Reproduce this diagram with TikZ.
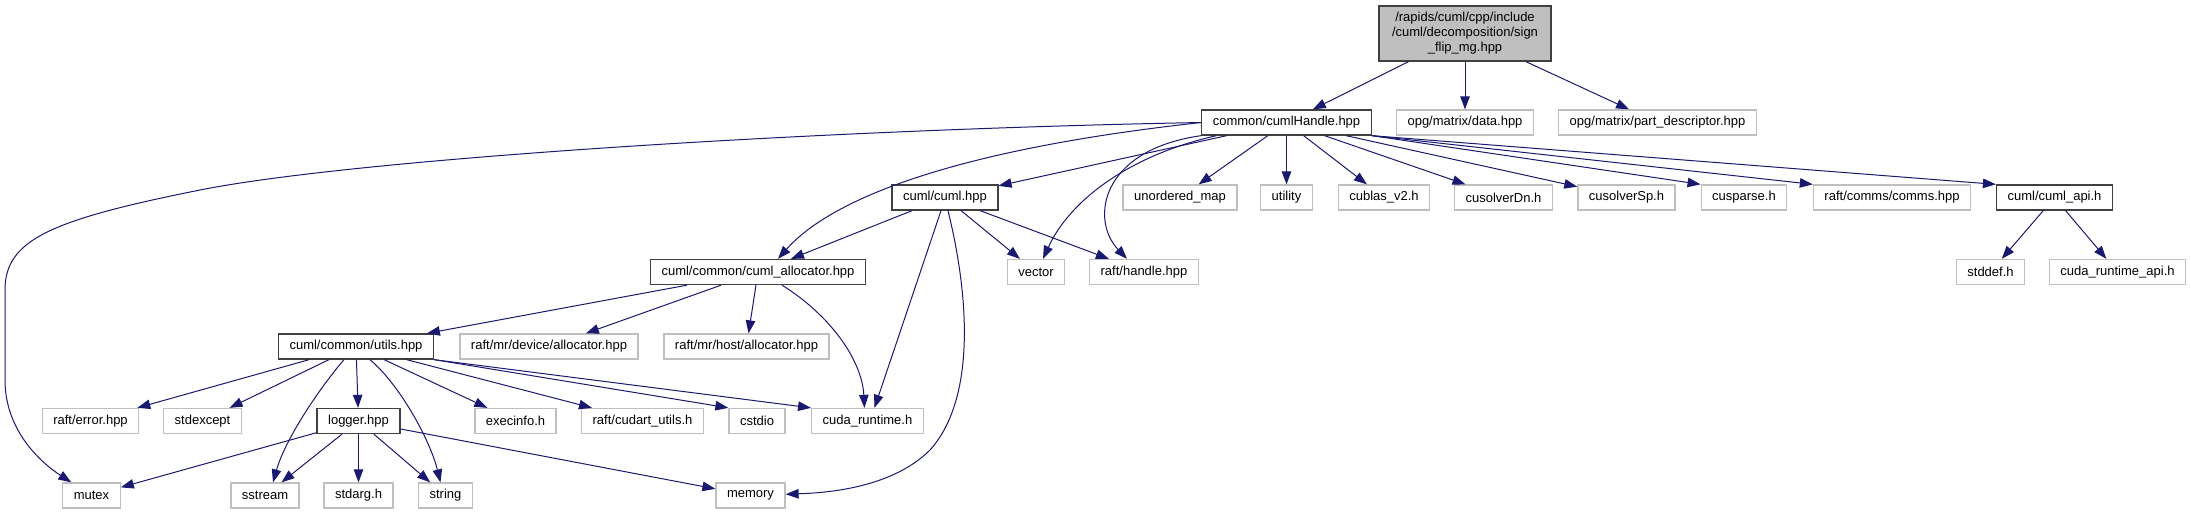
\documentclass[tikz,border=0pt]{standalone}
\usepackage{fontspec}
\setmainfont{Liberation Sans}
\usepackage{tikz}
\usetikzlibrary{arrows.meta}
\definecolor{edgeblue}{HTML}{191970}
\definecolor{hdrgray}{HTML}{BFBFBF}
\definecolor{docgray}{HTML}{404040}

\begin{document}
\begin{tikzpicture}[x=1pt,y=-1pt,
  file/.style={draw=hdrgray,line width=1.3pt,minimum height=25pt,inner xsep=11pt,inner ysep=0pt,font=\fontsize{13}{15}\selectfont},
  doc/.style={file,draw=docgray},
  edge/.style={draw=edgeblue,line width=1pt,-{Triangle[length=13pt,width=9.5pt]}}]
  \useasboundingbox (0,0) rectangle (2190,515);
  \node[doc,fill=hdrgray,align=center,minimum width=172pt,minimum height=55pt,inner xsep=4pt] (root) at (1465,33.5) {/rapids/cuml/cpp/include\\/cuml/decomposition/sign\\\_flip\_mg.hpp};
  \node[doc] (handle) at (1286.5,122.5) {common/cumlHandle.hpp};
  \node[file] (data) at (1465,122.5) {opg/matrix/data.hpp};
  \node[file] (partdesc) at (1657.5,122.5) {opg/matrix/part\_descriptor.hpp};
  \node[doc] (cumlhpp) at (945,197.5) {cuml/cuml.hpp};
  \node[file] (umap) at (1180,197.5) {unordered\_map};
  \node[file] (utility) at (1286.5,197.5) {utility};
  \node[file] (cublas) at (1384,197.5) {cublas\_v2.h};
  \node[file] (solverdn) at (1503.5,197.5) {cusolverDn.h};
  \node[file] (solversp) at (1626.5,197.5) {cusolverSp.h};
  \node[file] (cusparse) at (1744,197.5) {cusparse.h};
  \node[file] (comms) at (1892,197.5) {raft/comms/comms.hpp};
  \node[doc] (cumlapi) at (2054.5,197.5) {cuml/cuml\_api.h};
  \node[doc] (alloc) at (758,272) {cuml/common/cuml\_allocator.hpp};
  \node[file] (vector) at (1036,272) {vector};
  \node[file] (rafthandle) at (1144,272) {raft/handle.hpp};
  \node[file] (stddef) at (1990.5,272) {stddef.h};
  \node[file] (rtapi) at (2117.5,272) {cuda\_runtime\_api.h};
  \node[doc] (utils) at (356,346.5) {cuml/common/utils.hpp};
  \node[file] (mrdevice) at (549,346.5) {raft/mr/device/allocator.hpp};
  \node[file] (mrhost) at (746.5,346.5) {raft/mr/host/allocator.hpp};
  \node[file] (rafterror) at (90.5,421) {raft/error.hpp};
  \node[file] (stdexcept) at (202.5,421) {stdexcept};
  \node[doc] (logger) at (358.5,421) {logger.hpp};
  \node[file] (execinfo) at (515.5,421) {execinfo.h};
  \node[file] (cudartutils) at (642.5,421) {raft/cudart\_utils.h};
  \node[file] (cstdio) at (757,421) {cstdio};
  \node[file] (cudart) at (867.5,421) {cuda\_runtime.h};
  \node[file] (mutex) at (91.5,495.5) {mutex};
  \node[file] (sstream) at (265,495.5) {sstream};
  \node[file] (stdarg) at (358.5,495.5) {stdarg.h};
  \node[file] (string) at (445.5,495.5) {string};
  \node[file] (memory) at (750.5,495.5) {memory};

  \draw[edge] (root) -- (handle); \draw[edge] (root) -- (data); \draw[edge] (root) -- (partdesc);
  \draw[edge] (handle.west) .. controls (800,130) and (350,160) .. (200,190) .. controls (50,220) and (5,240) .. (5,290) -- (5,380) .. controls (5,430) and (40,462) .. (mutex);
  \draw[edge] (handle.west) .. controls (950,150) and (830,200) .. ([xshift=20pt]alloc.north);
  \draw[edge] (handle) -- (cumlhpp);
  \draw[edge] ([xshift=-70pt]handle.south) .. controls (1130,155) and (1070,200) .. ([xshift=7pt]vector.north);
  \draw[edge] (handle.south west) .. controls (1100,150) and (1090,220) .. ([xshift=-17pt]rafthandle.north);
  \draw[edge] (handle) -- (umap); \draw[edge] (handle) -- (utility); \draw[edge] (handle) -- (cublas);
  \draw[edge] (handle) -- (solverdn); \draw[edge] (handle) -- (solversp);
  \draw[edge] (handle.south east) -- (cusparse.north west);
  \draw[edge] (handle.south east) -- (comms.north west);
  \draw[edge] (handle.south east) -- (cumlapi.north west);
  \draw[edge] (cumlhpp) -- (alloc); \draw[edge] (cumlhpp) -- (vector); \draw[edge] (cumlhpp) -- (rafthandle);
  \draw[edge] ([xshift=-4pt]cumlhpp.south) -- ([xshift=7pt]cudart.north);
  \draw[edge] ([xshift=3pt]cumlhpp.south) .. controls (970,300) and (975,400) .. (930,450) .. controls (890,490) and (820,493) .. (memory);
  \draw[edge] (cumlapi) -- (stddef); \draw[edge] (cumlapi) -- (rtapi);
  \draw[edge] (alloc) -- (utils); \draw[edge] (alloc) -- (mrdevice); \draw[edge] (alloc) -- (mrhost);
  \draw[edge] ([xshift=24pt]alloc.south) .. controls (830,315) and (862,360) .. ([xshift=-3pt]cudart.north);
  \draw[edge] (utils) -- (rafterror); \draw[edge] (utils) -- (stdexcept); \draw[edge] (utils) -- (logger);
  \draw[edge] ([xshift=-12pt]utils.south) .. controls (318,390) and (285,440) .. ([xshift=8pt]sstream.north);
  \draw[edge] ([xshift=14pt]utils.south) .. controls (400,385) and (430,440) .. ([xshift=-5pt]string.north);
  \draw[edge] (utils) -- (execinfo); \draw[edge] (utils) -- (cudartutils);
  \draw[edge] (utils.south east) -- (cstdio.north west);
  \draw[edge] (utils.south east) -- (cudart.north west);
  \draw[edge] (logger) -- (mutex); \draw[edge] (logger) -- (sstream); \draw[edge] (logger) -- (stdarg);
  \draw[edge] (logger) -- (string); \draw[edge] (logger) -- (memory);
\end{tikzpicture}
\end{document}
